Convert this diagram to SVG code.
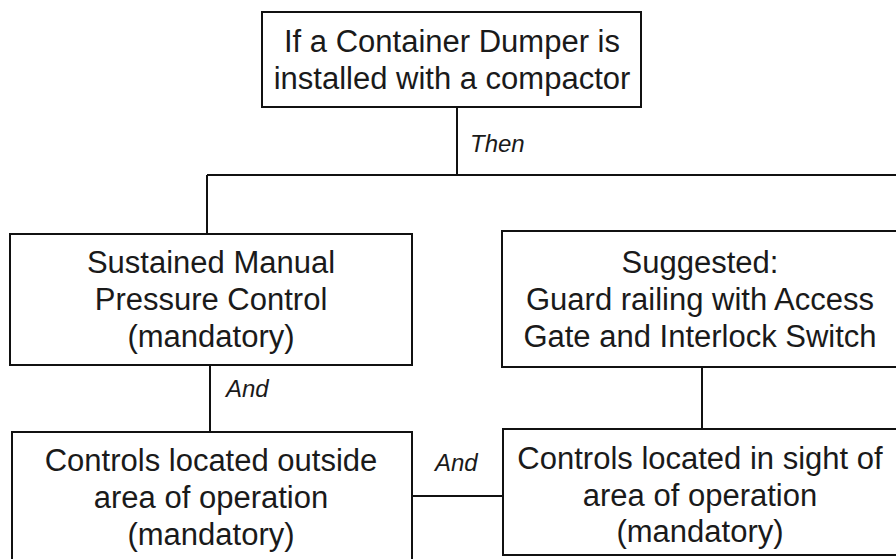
<svg xmlns="http://www.w3.org/2000/svg" width="896" height="559" viewBox="0 0 896 559">
<style>
.box{fill:#fff;stroke:#111;stroke-width:2}
.t{font-family:"Liberation Sans",Arial,sans-serif;font-size:31px;fill:#1a1a1a;text-anchor:middle}
.l{font-family:"Liberation Sans",Arial,sans-serif;font-size:24px;font-style:italic;fill:#1a1a1a}
.c{stroke:#111;stroke-width:2;fill:none}
</style>
<rect width="896" height="559" fill="#fff"/>
<g id="connectors">
<path class="c" d="M457 107V175M207 175H896M207 175V234"/>
<path class="c" d="M210 365V432"/>
<path class="c" d="M702 367V430"/>
<path class="c" d="M412 496H503"/>
<text class="l" x="470" y="152">Then</text>
<text class="l" x="226" y="397">And</text>
<text class="l" x="435" y="471">And</text>
</g>
<g id="n1">
<rect class="box" x="262" y="12" width="379" height="95"/>
<text class="t" x="452" y="52">If a Container Dumper is</text>
<text class="t" x="452" y="89">installed with a compactor</text>
</g>
<g id="n2">
<rect class="box" x="10" y="234" width="402" height="131"/>
<text class="t" x="211" y="273">Sustained Manual</text>
<text class="t" x="211" y="310">Pressure Control</text>
<text class="t" x="211" y="347">(mandatory)</text>
</g>
<g id="n3">
<rect class="box" x="502" y="231" width="400" height="136"/>
<text class="t" x="700" y="273">Suggested:</text>
<text class="t" x="700" y="310">Guard railing with Access</text>
<text class="t" x="700" y="347">Gate and Interlock Switch</text>
</g>
<g id="n4">
<rect class="box" x="12" y="432" width="400" height="135"/>
<text class="t" x="211" y="471">Controls located outside</text>
<text class="t" x="211" y="508">area of operation</text>
<text class="t" x="211" y="545">(mandatory)</text>
</g>
<g id="n5">
<rect class="box" x="503" y="429" width="400" height="126"/>
<text class="t" x="700" y="469">Controls located in sight of</text>
<text class="t" x="700" y="506">area of operation</text>
<text class="t" x="700" y="542">(mandatory)</text>
</g>
</svg>
